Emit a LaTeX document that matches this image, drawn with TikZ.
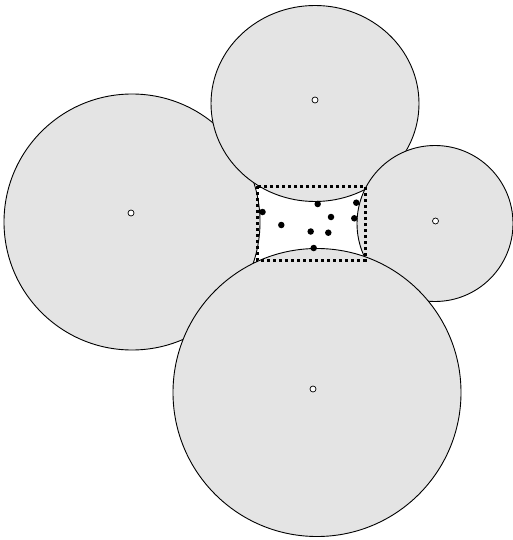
\documentclass[tikz,border=0pt]{standalone}
\begin{document}
\begin{tikzpicture}[x=1pt,y=-1pt,
  disk/.style={fill=diskgray,draw=black,line width=0.9pt},
  centre/.style={circle,fill=white,draw=black,line width=0.7pt,inner sep=0pt,minimum size=6pt},
  site/.style={circle,fill=black,inner sep=0pt,minimum size=6.5pt},
  box/.style={draw=black,line width=3pt,dash pattern=on 3pt off 3pt}]
\definecolor{diskgray}{RGB}{228,228,228}
\useasboundingbox (0,0) rectangle (513,540);
% disks
\draw[disk] (132,222) circle[radius=128];
\draw[disk] (315,103.5) ellipse[x radius=104,y radius=98];
\draw[disk] (435,223.5) circle[radius=78];
\draw[disk] (317,392.5) circle[radius=144];
% centres
\node[centre] (c1) at (131,213) {};
\node[centre] (c2) at (315,100) {};
\node[centre] (c3) at (435.5,221) {};
\node[centre] (c4) at (313,389) {};
% dotted rectangle
\draw[box] (257,186) rectangle (365,260);
% sites
\node[site] (s1) at (262.5,212) {};
\node[site] (s2) at (317.7,204) {};
\node[site] (s3) at (356.3,202.7) {};
\node[site] (s4) at (331,217) {};
\node[site] (s5) at (354.3,218.3) {};
\node[site] (s6) at (281.3,225) {};
\node[site] (s7) at (310.7,231.5) {};
\node[site] (s8) at (328.3,232.7) {};
\node[site] (s9) at (313.7,248) {};
\end{tikzpicture}
\end{document}
